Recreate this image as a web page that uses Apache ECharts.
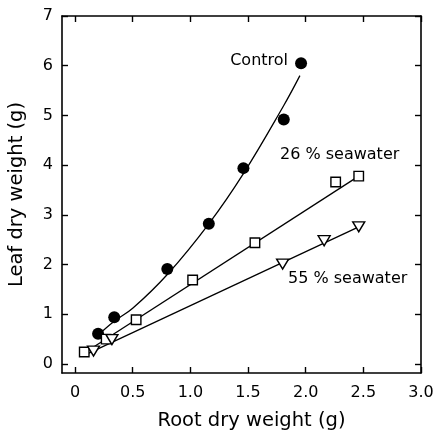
<!DOCTYPE html>
<html>
<head>
<meta charset="utf-8">
<script src="https://cdn.jsdelivr.net/npm/echarts@6/dist/echarts.min.js"></script>
<style>
  html, body { margin: 0; padding: 0; background: #fff; }
  #chart { width: 436px; height: 433px; }
</style>
</head>
<body>
<div id="chart"></div>
<script>
// Root vs leaf dry weight (g) under three salinity treatments
const xTicks = [0, 0.5, 1.0, 1.5, 2.0, 2.5, 3.0];
const xTickLabels = ['0', '0.5', '1.0', '1.5', '2.0', '2.5', '3.0'];
const yTicks = [0, 1, 2, 3, 4, 5, 6, 7];

// Measured points [root, leaf]
const controlPts = [[0.20, 0.61], [0.34, 0.94], [0.80, 1.91], [1.16, 2.82], [1.46, 3.94], [1.81, 4.92], [1.96, 6.05]];
const sw26Pts = [[0.08, 0.24], [0.27, 0.50], [0.53, 0.89], [1.02, 1.69], [1.56, 2.44], [2.26, 3.66], [2.46, 3.78]];
const sw55Pts = [[0.16, 0.26], [0.32, 0.49], [1.80, 2.01], [2.16, 2.48], [2.46, 2.76]];

// Fitted relationships
const controlFit = [[0.20, 0.58], [0.34, 0.86], [0.50, 1.12], [0.80, 1.80], [1.16, 2.82], [1.46, 3.83], [1.81, 5.20], [1.95, 5.80]];
const sw26Fit = [[0.08, 0.22], [2.46, 3.78]];
const sw55Fit = [[0.12, 0.22], [2.46, 2.76]];

const FONT = 'DejaVu Sans';
const chart = echarts.init(document.getElementById('chart'), null, { renderer: 'canvas' });

const frameLine = { show: true, onZero: false, lineStyle: { color: '#000', width: 1.6 } };
const innerTick = { show: true, inside: true, length: 6, lineStyle: { color: '#000', width: 1.4 } };

chart.setOption({
  animation: false,
  backgroundColor: '#fff',
  grid: { left: 62, top: 16, width: 359, height: 357, containLabel: false, outerBoundsMode: 'none' },
  xAxis: [
    {
      type: 'value', position: 'bottom', min: -0.113, max: 3.0,
      axisLine: frameLine,
      axisTick: Object.assign({}, innerTick, { customValues: xTicks }),
      axisLabel: {
        customValues: xTicks,
        formatter: v => xTickLabels[xTicks.indexOf(Math.round(v * 10) / 10)] ?? '',
        margin: 12, color: '#000', fontFamily: FONT, fontSize: 16
      },
      splitLine: { show: false },
      name: 'Root dry weight (g)', nameLocation: 'middle', nameGap: 38,
      nameTextStyle: { color: '#000', fontFamily: FONT, fontSize: 19.5, padding: [0, 0, 0, 20] }
    },
    {
      type: 'value', position: 'top', min: -0.113, max: 3.0,
      axisLine: frameLine,
      axisTick: Object.assign({}, innerTick, { customValues: xTicks }),
      axisLabel: { show: false },
      splitLine: { show: false }
    }
  ],
  yAxis: [
    {
      type: 'value', position: 'left', min: -0.181, max: 7,
      axisLine: frameLine,
      axisTick: Object.assign({}, innerTick, { customValues: yTicks }),
      axisLabel: {
        customValues: yTicks, margin: 9, color: '#000', fontFamily: FONT, fontSize: 16
      },
      splitLine: { show: false },
      name: 'Leaf dry weight (g)', nameLocation: 'middle', nameGap: 35,
      nameTextStyle: { color: '#000', fontFamily: FONT, fontSize: 19.5 }
    },
    {
      type: 'value', position: 'right', min: -0.181, max: 7,
      axisLine: frameLine,
      axisTick: Object.assign({}, innerTick, { customValues: yTicks }),
      axisLabel: { show: false },
      splitLine: { show: false }
    }
  ],
  series: [
    { type: 'line', data: controlFit, smooth: 0.4, showSymbol: false, lineStyle: { color: '#000', width: 1.3 }, z: 2 },
    { type: 'line', data: sw26Fit, showSymbol: false, lineStyle: { color: '#000', width: 1.3 }, z: 2 },
    { type: 'line', data: sw55Fit, showSymbol: false, lineStyle: { color: '#000', width: 1.3 }, z: 2 },
    {
      type: 'scatter', data: controlPts, symbol: 'circle', symbolSize: 12,
      itemStyle: { color: '#000', opacity: 1 }, z: 5
    },
    {
      type: 'scatter', data: sw26Pts, symbol: 'rect', symbolSize: 9.5,
      itemStyle: { color: '#fff', borderColor: '#000', borderWidth: 1.4, opacity: 1 }, z: 5
    },
    {
      type: 'scatter', data: sw55Pts, symbol: 'triangle', symbolRotate: 180, symbolSize: [12, 10],
      itemStyle: { color: '#fff', borderColor: '#000', borderWidth: 1.4, opacity: 1 }, z: 5
    }
  ],
  graphic: [
    { type: 'text', right: 436 - 288, top: 53, style: { text: 'Control', font: '16px "DejaVu Sans"', fill: '#000' } },
    { type: 'text', left: 280, top: 147, style: { text: '26 % seawater', font: '16px "DejaVu Sans"', fill: '#000' } },
    { type: 'text', left: 288, top: 271, style: { text: '55 % seawater', font: '16px "DejaVu Sans"', fill: '#000' } }
  ]
});
</script>
</body>
</html>
